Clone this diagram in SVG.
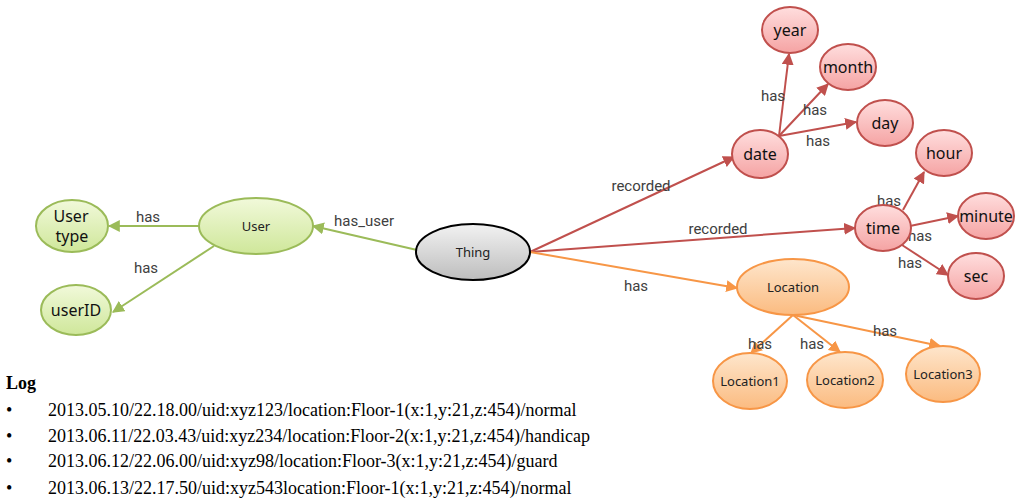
<svg xmlns="http://www.w3.org/2000/svg" width="1024" height="502" viewBox="0 0 1024 502">
<defs>
<linearGradient id="gG" x1="0" y1="0" x2="0" y2="1"><stop offset="0" stop-color="#f1f9da"/><stop offset="1" stop-color="#cfe79a"/></linearGradient>
<linearGradient id="gR" x1="0" y1="0" x2="0" y2="1"><stop offset="0" stop-color="#ffdede"/><stop offset="1" stop-color="#f5a3a3"/></linearGradient>
<linearGradient id="gO" x1="0" y1="0" x2="0" y2="1"><stop offset="0" stop-color="#fee6cc"/><stop offset="1" stop-color="#fbbb80"/></linearGradient>
<linearGradient id="gK" x1="0" y1="0" x2="0" y2="1"><stop offset="0" stop-color="#f2f2f2"/><stop offset="1" stop-color="#bdbdbd"/></linearGradient>
<marker id="aG" viewBox="0 0 10 10" refX="9" refY="5" markerWidth="12" markerHeight="12" markerUnits="userSpaceOnUse" orient="auto"><path d="M0,0 L10,5 L0,10 z" fill="#9bbb59"/></marker>
<marker id="aR" viewBox="0 0 10 10" refX="9" refY="5" markerWidth="12" markerHeight="12" markerUnits="userSpaceOnUse" orient="auto"><path d="M0,0 L10,5 L0,10 z" fill="#c0504d"/></marker>
<marker id="aO" viewBox="0 0 10 10" refX="9" refY="5" markerWidth="12" markerHeight="12" markerUnits="userSpaceOnUse" orient="auto"><path d="M0,0 L10,5 L0,10 z" fill="#f79646"/></marker>
</defs>
<style>
.g{fill:url(#gG);stroke:#9bbb59;stroke-width:2}
.r{fill:url(#gR);stroke:#c0504d;stroke-width:2}
.o{fill:url(#gO);stroke:#f79646;stroke-width:2}
.k{fill:url(#gK);stroke:#000;stroke-width:2}
.eg{stroke:#9bbb59;stroke-width:2;fill:none;marker-end:url(#aG)}
.er{stroke:#c0504d;stroke-width:2;fill:none;marker-end:url(#aR)}
.eo{stroke:#f79646;stroke-width:2;fill:none;marker-end:url(#aO)}
.t{font-family:"Noto Sans","Open Sans",sans-serif;font-size:16px;fill:#111;text-anchor:middle}
.ts{font-family:"Noto Sans","Open Sans",sans-serif;font-size:13px;fill:#222;text-anchor:middle}
.l{font-family:"Roboto","Liberation Sans",sans-serif;font-size:15px;fill:#404040;text-anchor:middle}
.log{font-family:"Liberation Serif",serif;font-size:18px;fill:#000}
</style>
<rect width="1024" height="502" fill="#fff"/>
<g id="connectors">
<line class="eg" x1="200" y1="226" x2="109" y2="226"/>
<line class="eg" x1="214" y1="246" x2="113" y2="312"/>
<line class="eg" x1="417" y1="250" x2="313" y2="226"/>
<line class="er" x1="530" y1="252" x2="734" y2="157"/>
<line class="er" x1="530" y1="252" x2="855" y2="228"/>
<line class="eo" x1="530" y1="252" x2="737" y2="288"/>
<line class="er" x1="779" y1="136" x2="789" y2="54"/>
<line class="er" x1="779" y1="136" x2="828" y2="84"/>
<line class="er" x1="779" y1="136" x2="856" y2="122"/>
<line class="er" x1="903" y1="210" x2="924" y2="172"/>
<line class="er" x1="910" y1="226" x2="958" y2="216"/>
<line class="er" x1="902" y1="245" x2="948" y2="275"/>
<line class="eo" x1="793" y1="315" x2="751" y2="353"/>
<line class="eo" x1="793" y1="315" x2="840" y2="352"/>
<line class="eo" x1="793" y1="315" x2="940" y2="346"/>
<text class="l" x="148" y="222">has</text>
<text class="l" x="146" y="273">has</text>
<text class="l" x="364" y="226">has_user</text>
<text class="l" x="641" y="191">recorded</text>
<text class="l" x="718" y="234">recorded</text>
<text class="l" x="636" y="291">has</text>
<text class="l" x="773" y="101">has</text>
<text class="l" x="815" y="115">has</text>
<text class="l" x="818" y="146">has</text>
<text class="l" x="889" y="206">has</text>
<text class="l" x="920" y="241">has</text>
<text class="l" x="910" y="268">has</text>
<text class="l" x="760" y="349">has</text>
<text class="l" x="812" y="349">has</text>
<text class="l" x="885" y="336">has</text>
</g>
<g id="usertype"><ellipse class="g" cx="72" cy="226" rx="36" ry="26"/><text class="t" x="71" y="222">User</text><text class="t" x="72" y="242">type</text></g>
<g id="userid"><ellipse class="g" cx="76" cy="310" rx="35" ry="25"/><text class="t" x="76" y="316">userID</text></g>
<g id="user"><ellipse class="g" cx="256" cy="226" rx="57" ry="28"/><text class="ts" x="256" y="231">User</text></g>
<g id="thing"><ellipse class="k" cx="473" cy="252" rx="57" ry="28"/><text class="ts" x="473" y="257">Thing</text></g>
<g id="date"><ellipse class="r" cx="760" cy="154" rx="28" ry="24"/><text class="t" x="760" y="160">date</text></g>
<g id="year"><ellipse class="r" cx="790" cy="30" rx="28" ry="23"/><text class="t" x="790" y="36">year</text></g>
<g id="month"><ellipse class="r" cx="848" cy="67" rx="28" ry="23"/><text class="t" x="848" y="73">month</text></g>
<g id="day"><ellipse class="r" cx="885" cy="123" rx="28" ry="23"/><text class="t" x="885" y="129">day</text></g>
<g id="hour"><ellipse class="r" cx="944" cy="153" rx="28" ry="23"/><text class="t" x="944" y="159">hour</text></g>
<g id="time"><ellipse class="r" cx="883" cy="228" rx="28" ry="23"/><text class="t" x="883" y="234">time</text></g>
<g id="minute"><ellipse class="r" cx="986" cy="216" rx="28" ry="23"/><text class="t" x="986" y="222">minute</text></g>
<g id="sec"><ellipse class="r" cx="976" cy="276" rx="28" ry="23"/><text class="t" x="976" y="282">sec</text></g>
<g id="location"><ellipse class="o" cx="793" cy="287" rx="56" ry="28"/><text class="ts" x="793" y="292">Location</text></g>
<g id="location1"><ellipse class="o" cx="750" cy="381" rx="37" ry="28"/><text class="ts" x="750" y="386">Location1</text></g>
<g id="location2"><ellipse class="o" cx="845" cy="380" rx="38" ry="28"/><text class="ts" x="845" y="385">Location2</text></g>
<g id="location3"><ellipse class="o" cx="943" cy="374" rx="37" ry="28"/><text class="ts" x="943" y="379">Location3</text></g>
<g id="log">
<text class="log" x="6" y="389" font-weight="bold">Log</text>
<text class="log" x="6" y="416">•</text><text class="log" x="48" y="416">2013.05.10/22.18.00/uid:xyz123/location:Floor-1(x:1,y:21,z:454)/normal</text>
<text class="log" x="6" y="442">•</text><text class="log" x="48" y="442">2013.06.11/22.03.43/uid:xyz234/location:Floor-2(x:1,y:21,z:454)/handicap</text>
<text class="log" x="6" y="467">•</text><text class="log" x="48" y="467">2013.06.12/22.06.00/uid:xyz98/location:Floor-3(x:1,y:21,z:454)/guard</text>
<text class="log" x="6" y="494">•</text><text class="log" x="48" y="494">2013.06.13/22.17.50/uid:xyz543location:Floor-1(x:1,y:21,z:454)/normal</text>
</g>
</svg>
